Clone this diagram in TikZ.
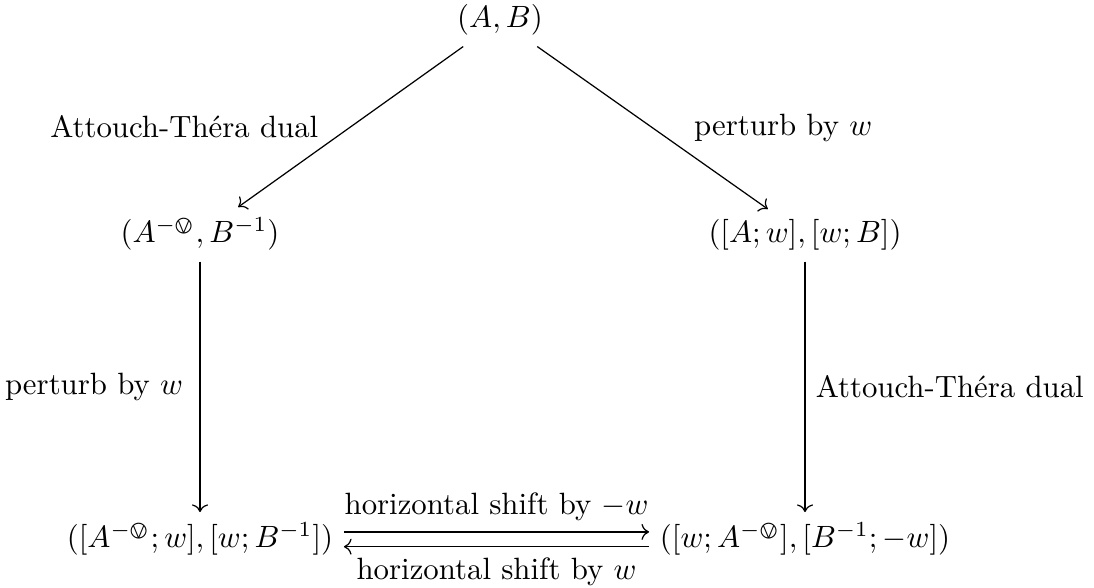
\documentclass[tikz,border=0pt]{standalone}
\usepackage{fontspec}
\usepackage{amsmath}
\usepackage{stmaryrd}
\usepackage{tikz-cd}
\newcommand{\ovv}{\varovee}
\begin{document}
\begin{tikzpicture}[x=0.3247pt, y=-0.3247pt,
  obj/.style={anchor=base, inner sep=3.33pt},
  arr/.style={-{cm to}, line width=0.4pt},
  lbl/.style={inner sep=3.33pt}]
\useasboundingbox (0,0) rectangle (1094,588);
\node[obj] (ab) at (500,28) {$(A,B)$};
\node[obj] (ml) at (200,243) {$(A^{-\ovv},B^{-1})$};
\node[obj] (mr) at (805,243) {$([A;w],[w;B])$};
\node[obj] (bl) at (200,548) {$([A^{-\ovv};w],[w;B^{-1}])$};
\node[obj] (br) at (805,548) {$([w;A^{-\ovv}],[B^{-1};-w])$};
\draw[arr] (ab) -- node[lbl, midway, anchor=east, xshift=-7pt] {Attouch-Th\'era dual} (ml);
\draw[arr] (ab) -- node[lbl, midway, anchor=west, xshift=10pt] {perturb by $w$} (mr);
\draw[arr] (ml) -- node[lbl, midway, anchor=east, xshift=-2pt] {perturb by $w$} (bl);
\draw[arr] (mr) -- node[lbl, midway, anchor=west] {Attouch-Th\'era dual} (br);
\draw[arr] ([yshift=2.4pt]bl.east) -- node[lbl, midway, anchor=south] {horizontal shift by $-w$} ([yshift=2.4pt]br.west);
\draw[arr] ([yshift=-2.4pt]br.west) -- node[lbl, midway, anchor=north] {horizontal shift by $w$} ([yshift=-2.4pt]bl.east);
\end{tikzpicture}
\end{document}
